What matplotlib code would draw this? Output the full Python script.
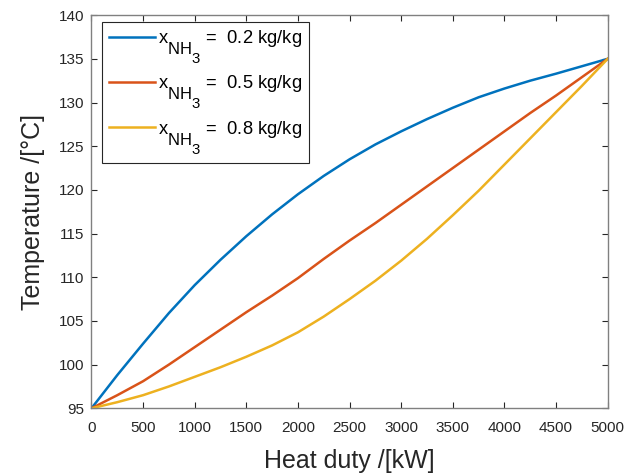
import numpy as np
import matplotlib
matplotlib.use("Agg")
import matplotlib.pyplot as plt
import matplotlib._mathtext as mt

plt.rcParams['font.family'] = ['Liberation Sans', 'DejaVu Sans']
plt.rcParams['mathtext.fontset'] = 'custom'
plt.rcParams['mathtext.rm'] = 'Liberation Sans'
plt.rcParams['mathtext.it'] = 'Liberation Sans:italic'

# MATLAB-style subscripts: nearly full size and dropped low
mt.SHRINK_FACTOR = 0.9
for cls in [mt.FontConstantsBase] + mt.FontConstantsBase.__subclasses__():
    cls.sub1 = 1.1
    cls.subdrop = 0.8

# heat duty [kW]
duty = [0, 250, 500, 750, 1000, 1250, 1500, 1750, 2000, 2250, 2500,
        2750, 3000, 3250, 3500, 3750, 4000, 4250, 4500, 4750, 5000]

# temperature [C] for each ammonia mass fraction
t_02 = [95, 98.8, 102.4, 105.9, 109.1, 112.0, 114.7, 117.2, 119.5, 121.6, 123.5,
        125.2, 126.7, 128.1, 129.4, 130.6, 131.6, 132.5, 133.3, 134.15, 135]
t_05 = [95, 96.5, 98.1, 100.0, 102.0, 104.0, 106.0, 107.9, 109.9, 112.1, 114.2,
        116.2, 118.3, 120.4, 122.5, 124.6, 126.7, 128.8, 130.8, 132.9, 135]
t_08 = [95, 95.7, 96.5, 97.5, 98.6, 99.7, 100.9, 102.2, 103.7, 105.5, 107.5,
        109.6, 111.9, 114.4, 117.1, 119.9, 122.9, 125.9, 128.9, 131.9, 135]

labels = [r'$\mathregular{x_{NH_3}}$ =  0.2 kg/kg',
          r'$\mathregular{x_{NH_3}}$ =  0.5 kg/kg',
          r'$\mathregular{x_{NH_3}}$ =  0.8 kg/kg']
colors = ['#0072BD', '#D95319', '#EDB120']

fig = plt.figure(figsize=(6.37, 4.73), dpi=100)
ax = fig.add_axes([0.1436, 0.1368, 0.8104, 0.968 - 0.1368])

for t, lab, c in zip([t_02, t_05, t_08], labels, colors):
    ax.plot(duty, t, color=c, linewidth=1.8, label=lab)

ax.set_xlim(0, 5000)
ax.set_ylim(95, 140)
ax.set_xticks(np.arange(0, 5001, 500))
ax.set_yticks(np.arange(95, 141, 5))

axis_col = '#262626'
for s in ax.spines.values():
    s.set_color('#808080')
    s.set_linewidth(1.0)
ax.tick_params(direction='in', top=True, right=True, length=4, width=0.8,
               color=axis_col, labelcolor=axis_col, labelsize=11, pad=5)
ax.tick_params(axis='x', pad=9)

ax.set_xlabel('Heat duty /[kW]', fontsize=18, color=axis_col, labelpad=10)
ax.set_ylabel('Temperature /[°C]', fontsize=18, color=axis_col, labelpad=10)

leg = ax.legend(loc='upper left', bbox_to_anchor=(0.021, 0.983), borderaxespad=0,
                fontsize=13.2, handlelength=2.5, handletextpad=0.2,
                labelspacing=0.4, fancybox=False, framealpha=1,
                borderpad=0.35)
leg.get_frame().set_edgecolor(axis_col)
leg.get_frame().set_linewidth(0.8)

fig.savefig('out.png', dpi=100)
